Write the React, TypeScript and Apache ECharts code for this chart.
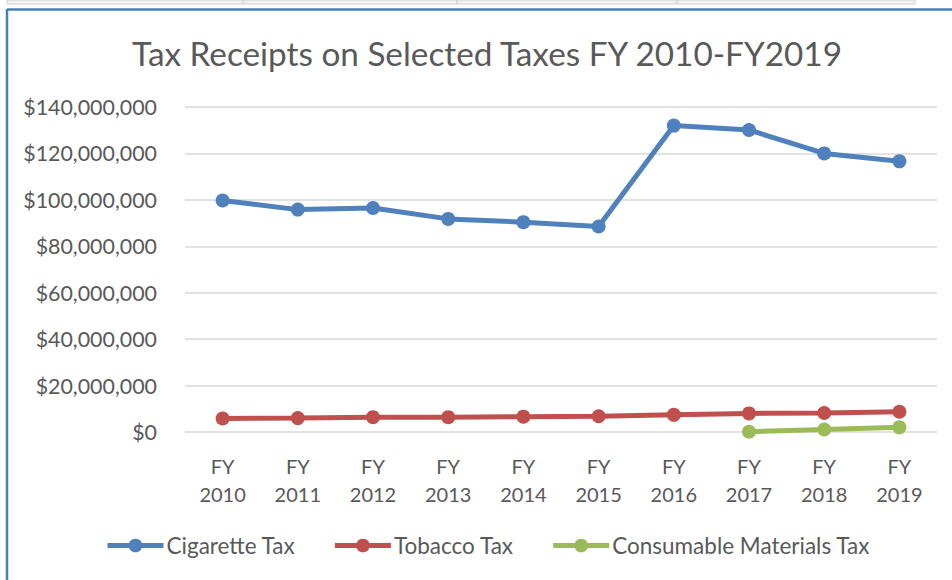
import React, { useEffect, useRef } from "react";
import * as echarts from "echarts";

const categories = ["FY\n2010", "FY\n2011", "FY\n2012", "FY\n2013", "FY\n2014", "FY\n2015", "FY\n2016", "FY\n2017", "FY\n2018", "FY\n2019"];
const cigaretteTax = [99700000, 95800000, 96500000, 91800000, 90400000, 88500000, 132000000, 130100000, 120000000, 116600000];
const tobaccoTax = [5800000, 6000000, 6400000, 6400000, 6600000, 6800000, 7400000, 8000000, 8200000, 8700000];
const consumableTax = [null, null, null, null, null, null, null, 100000, 1100000, 2000000];
const seriesNames = ["Cigarette Tax", "Tobacco Tax", "Consumable Materials Tax"];
const colors = ["#4F81BD", "#C0504D", "#9BBB59"];
const title = "Tax Receipts on Selected Taxes FY 2010-FY2019";

const FONT = "Lato";

export default function App() {
  const ref = useRef<HTMLDivElement>(null);
  useEffect(() => {
    document.body.style.margin = "0";
    const chart = echarts.init(ref.current!, null, { renderer: "svg" });
    const data = [cigaretteTax, tobaccoTax, consumableTax];
    chart.setOption({
      animation: false,
      backgroundColor: "#ffffff",
      title: {
        text: title,
        left: 482,
        textAlign: "center",
        top: 31,
        textStyle: { fontFamily: FONT, fontSize: 33.3, fontWeight: "normal", color: "#595959" },
      },
      grid: { left: 185, right: 15, top: 107, bottom: 148 },
      legend: {
        left: 100,
        top: 529,
        itemWidth: 56,
        itemHeight: 17,
        itemGap: 37,
        lineStyle: { width: 5 },
        textStyle: { fontFamily: FONT, fontSize: 22.5, color: "#595959", padding: [0, 0, 0, -2] },
        data: seriesNames,
      },
      xAxis: {
        type: "category",
        data: categories,
        boundaryGap: true,
        axisLine: { show: false },
        axisTick: { show: false },
        axisLabel: { fontFamily: FONT, fontSize: 20, color: "#595959", lineHeight: 28, margin: 20, interval: 0 },
      },
      yAxis: {
        type: "value",
        min: 0,
        max: 140000000,
        interval: 20000000,
        axisLine: { show: false },
        axisTick: { show: false },
        splitLine: { lineStyle: { color: "#D9D9D9", width: 1.5 } },
        axisLabel: {
          fontFamily: FONT,
          fontSize: 21.4,
          color: "#595959",
          margin: 28,
          formatter: (v: number) => "$" + v.toLocaleString("en-US"),
        },
      },
      series: seriesNames.map((name, i) => ({
        name,
        type: "line",
        data: data[i],
        color: colors[i],
        symbol: "circle",
        symbolSize: 14,
        lineStyle: { width: 5, color: colors[i] },
        itemStyle: { color: colors[i] },
        connectNulls: false,
      })),
      graphic: [
        { type: "rect", shape: { x: 7, y: 0, width: 908, height: 4 }, style: { fill: "#f2f2f2", stroke: "#d0d0d0", lineWidth: 1 } },
        { type: "line", shape: { x1: 243, y1: 0, x2: 243, y2: 4 }, style: { stroke: "#c8c8c8", lineWidth: 1 } },
        { type: "line", shape: { x1: 457, y1: 0, x2: 457, y2: 4 }, style: { stroke: "#c8c8c8", lineWidth: 1 } },
        { type: "line", shape: { x1: 677, y1: 0, x2: 677, y2: 4 }, style: { stroke: "#c8c8c8", lineWidth: 1 } },
        { type: "line", shape: { x1: 7, y1: 9.5, x2: 952, y2: 9.5 }, style: { stroke: "#4A7EBB", lineWidth: 2.5 } },
        { type: "line", shape: { x1: 7, y1: 9, x2: 7, y2: 580 }, style: { stroke: "#4A7EBB", lineWidth: 2.5 } },
      ],
    });
    return () => chart.dispose();
  }, []);
  return <div ref={ref} style={{ width: 952, height: 580 }} />;
}
